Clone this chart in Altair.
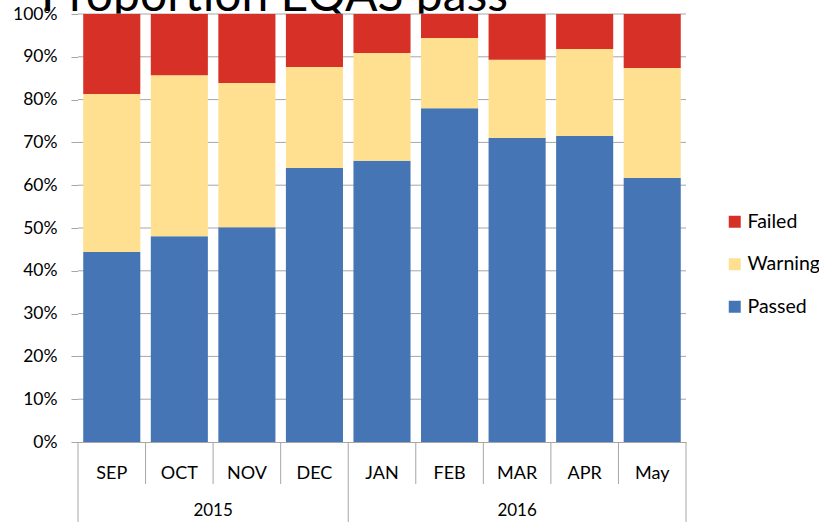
import altair as alt
import pandas as pd

# Monthly EQAS results, share of submissions per outcome (%)
months = ["SEP", "OCT", "NOV", "DEC", "JAN", "FEB", "MAR", "APR", "May"]
years = ["2015", "2015", "2015", "2015", "2016", "2016", "2016", "2016", "2016"]
passed = [44.4, 48.1, 50.2, 64.0, 65.7, 78.0, 71.0, 71.5, 61.7]
warning = [36.9, 37.6, 33.7, 23.6, 25.2, 16.4, 18.3, 20.3, 25.7]
failed = [18.7, 14.3, 16.1, 12.4, 9.1, 5.6, 10.7, 8.2, 12.6]

outcomes = ["Failed", "Warning", "Passed"]
outcome_colors = ["#d73027", "#fee090", "#4575b4"]
stack_rank = {"Passed": 0, "Warning": 1, "Failed": 2}

y_ticks = [0.0, 0.1, 0.2, 0.3, 0.4, 0.5, 0.6, 0.7, 0.8, 0.9, 1.0]
title_text = ["Proportion EQAS pass"]

FONT = "Lato"
GRID = "#a6a6a6"
W, H = 608, 428

rows = []
for m, y, p, w, f in zip(months, years, passed, warning, failed):
    for name, v in (("Passed", p), ("Warning", w), ("Failed", f)):
        rows.append({"month": m, "year": y, "outcome": name,
                     "value": v / 100.0, "rank": stack_rank[name]})
df = pd.DataFrame(rows)

x_scale = alt.Scale(domain=months, paddingInner=0, paddingOuter=0)
y_scale = alt.Scale(domain=[0, 1], nice=False)

# Chart heading (sits above the plot panel, running off the top edge)
heading = alt.Chart(pd.DataFrame({"t": title_text})).mark_text(
    font=FONT, fontSize=48, align="left", baseline="alphabetic", color="black"
).encode(x=alt.value(-37), y=alt.value(-3), text="t:N")

# White plot panel drawn over the heading's lower edge
panel = alt.Chart(pd.DataFrame({"t": title_text})).mark_rect(color="white").encode(
    x=alt.value(0), x2=alt.value(W), y=alt.value(0), y2=alt.value(H)
)

gridlines = alt.Chart(pd.DataFrame({"v": y_ticks[1:]})).mark_rule(
    color=GRID, strokeWidth=1
).encode(y=alt.Y("v:Q", scale=y_scale))

bars = alt.Chart(df).mark_bar(width=alt.RelativeBandSize(0.845)).encode(
    x=alt.X("month:N", sort=months, scale=x_scale,
            axis=alt.Axis(title=None, labelAngle=0, ticks=False, domain=True,
                          domainColor=GRID, labelFont=FONT, labelFontSize=18,
                          labelColor="black", labelPadding=22, grid=False)),
    y=alt.Y("value:Q", stack="zero", scale=y_scale,
            axis=alt.Axis(title=None, values=y_ticks, format=".0%", grid=False,
                          domainColor=GRID, tickColor=GRID, tickSize=7,
                          labelFont=FONT, labelFontSize=17.5, labelColor="black",
                          labelPadding=14)),
    color=alt.Color("outcome:N",
                    scale=alt.Scale(domain=outcomes, range=outcome_colors),
                    legend=alt.Legend(title=None, orient="none", legendX=647,
                                      legendY=198, symbolType="square",
                                      symbolSize=144, symbolStrokeWidth=0,
                                      labelFont=FONT, labelFontSize=19.5,
                                      labelColor="black", rowPadding=21.5,
                                      labelOffset=3)),
    order=alt.Order("rank:Q"),
)

# Category separators below the axis: short between months, long between years
month_df = pd.DataFrame({"month": months, "year": years})
inner_bounds = month_df[(month_df["month"] != "SEP") & (month_df["month"] != "JAN")]
year_starts = month_df[month_df["month"].isin(["SEP", "JAN"])]
last_month = month_df[month_df["month"] == months[-1]]

month_sep = alt.Chart(inner_bounds).mark_rule(color=GRID).encode(
    x=alt.X("month:N", sort=months, scale=x_scale, bandPosition=0),
    y=alt.value(H), y2=alt.value(H + 42),
)
year_sep = alt.Chart(year_starts).mark_rule(color=GRID).encode(
    x=alt.X("month:N", sort=months, scale=x_scale, bandPosition=0),
    y=alt.value(H), y2=alt.value(H + 80),
)
end_sep = alt.Chart(last_month).mark_rule(color=GRID).encode(
    x=alt.X("month:N", sort=months, scale=x_scale, bandPosition=1),
    y=alt.value(H), y2=alt.value(H + 80),
)

# Year labels centred under their month groups
y2015 = alt.Chart(pd.DataFrame({"month": ["NOV"], "year": ["2015"]})).mark_text(
    font=FONT, fontSize=17, baseline="middle", color="black"
).encode(x=alt.X("month:N", sort=months, scale=x_scale, bandPosition=0),
         y=alt.value(H + 69), text="year:N")
y2016 = alt.Chart(pd.DataFrame({"month": ["MAR"], "year": ["2016"]})).mark_text(
    font=FONT, fontSize=17, baseline="middle", color="black"
).encode(x=alt.X("month:N", sort=months, scale=x_scale, bandPosition=0.5),
         y=alt.value(H + 69), text="year:N")

chart = alt.layer(
    heading, panel, gridlines, bars, month_sep, year_sep, end_sep, y2015, y2016
).properties(
    width=W, height=H,
    autosize=alt.AutoSizeParams(type="none"),
    padding={"left": 78, "top": 14, "right": 133, "bottom": 80},
).configure_view(stroke=None)

chart.save("out.html", embed_options={"renderer": "svg", "actions": False})
